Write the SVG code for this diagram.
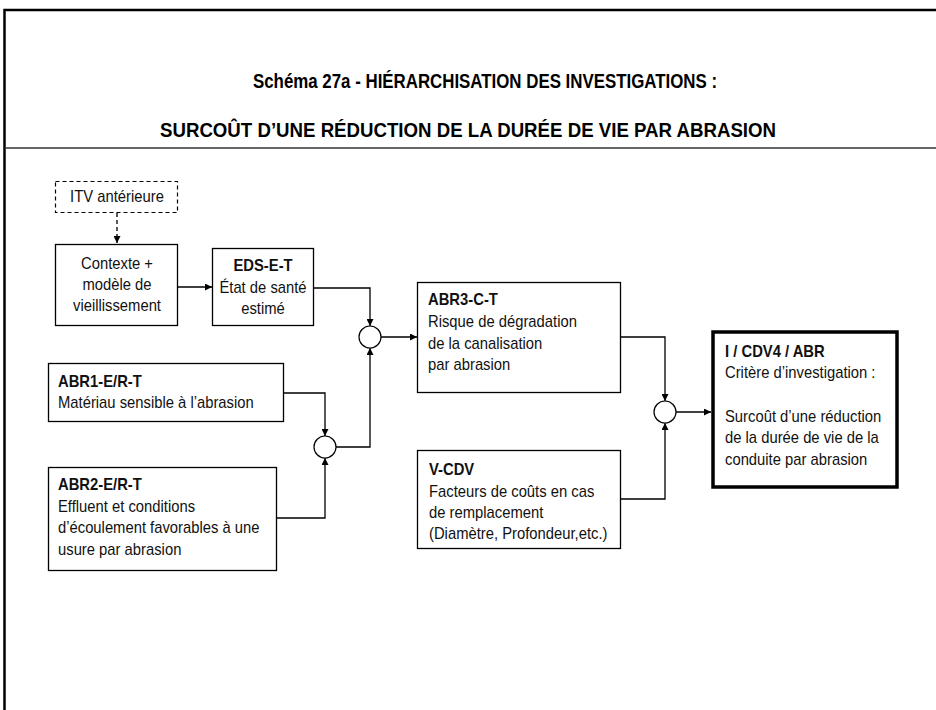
<svg xmlns="http://www.w3.org/2000/svg" width="936" height="710" viewBox="0 0 936 710">
<defs>
<marker id="arr" viewBox="0 0 10 10" refX="10" refY="5" markerWidth="7" markerHeight="7" markerUnits="userSpaceOnUse" orient="auto">
<path d="M0,0 L10,5 L0,10 z" fill="#000"/>
</marker>
<style>
.box{fill:#fff;stroke:#000;stroke-width:1.3}
.dash{fill:#fff;stroke:#000;stroke-width:1.2;stroke-dasharray:4 3}
.thick{fill:#fff;stroke:#000;stroke-width:3.5}
.circ{fill:#fff;stroke:#000;stroke-width:1.2}
.ln{fill:none;stroke:#000;stroke-width:1.3}
.t{font-family:"Liberation Sans",Arial,sans-serif;font-size:16px;fill:#111}
.b{font-weight:bold}
.c{text-anchor:middle}
.title{font-family:"Liberation Sans",Arial,sans-serif;font-size:20.5px;font-weight:bold;fill:#000}
</style>
</defs>
<rect x="0" y="0" width="936" height="710" fill="#fff"/>
<g id="frame">
<path d="M4.5,720 L4.5,10 L950,10" fill="none" stroke="#000" stroke-width="2.5"/>
<line x1="4.5" y1="148" x2="936" y2="148" stroke="#333" stroke-width="1.5"/>
<text class="title" x="253" y="87.5" textLength="464" lengthAdjust="spacingAndGlyphs">Schéma 27a - HIÉRARCHISATION DES INVESTIGATIONS :</text>
<text class="title" x="160" y="136.5" textLength="616" lengthAdjust="spacingAndGlyphs">SURCOÛT D’UNE RÉDUCTION DE LA DURÉE DE VIE PAR ABRASION</text>
</g>
<g id="connectors">
<path class="ln" d="M117,213 L117,243" stroke-dasharray="4 3" marker-end="url(#arr)"/>
<path class="ln" d="M177,287 L212,287" marker-end="url(#arr)"/>
<path class="ln" d="M313,288 L370,288 L370,326" marker-end="url(#arr)"/>
<path class="ln" d="M381,337 L417,337" marker-end="url(#arr)"/>
<path class="ln" d="M336,447 L370,447 L370,348" marker-end="url(#arr)"/>
<path class="ln" d="M284,393 L325,393 L325,436" marker-end="url(#arr)"/>
<path class="ln" d="M277,518 L325,518 L325,458" marker-end="url(#arr)"/>
<path class="ln" d="M621,337 L665,337 L665,401" marker-end="url(#arr)"/>
<path class="ln" d="M621,499 L665,499 L665,423" marker-end="url(#arr)"/>
<path class="ln" d="M676,412 L711,412" marker-end="url(#arr)"/>
</g>
<g id="itv">
<rect class="dash" x="55.5" y="181.5" width="122" height="31"/>
<text class="t c" transform="translate(117 202) scale(0.925 1)">ITV antérieure</text>
</g>
<g id="contexte">
<rect class="box" x="55.5" y="244.5" width="122" height="81"/>
<text class="t c" transform="translate(117 269) scale(0.925 1)">Contexte +</text>
<text class="t c" transform="translate(117 290) scale(0.925 1)">modèle de</text>
<text class="t c" transform="translate(117 311) scale(0.925 1)">vieillissement</text>
</g>
<g id="eds">
<rect class="box" x="212.5" y="248.5" width="101" height="77"/>
<text class="t c b" transform="translate(263 271) scale(0.925 1)">EDS-E-T</text>
<text class="t c" transform="translate(263 293) scale(0.925 1)">État de santé</text>
<text class="t c" transform="translate(263 314) scale(0.925 1)">estimé</text>
</g>
<g id="join1"><circle class="circ" cx="370" cy="337" r="11"/></g>
<g id="join2"><circle class="circ" cx="325" cy="447" r="11"/></g>
<g id="join3"><circle class="circ" cx="665" cy="412" r="11"/></g>
<g id="abr1">
<rect class="box" x="48.5" y="363.5" width="235" height="58"/>
<text class="t b" transform="translate(58 387) scale(0.925 1)">ABR1-E/R-T</text>
<text class="t" transform="translate(58 408) scale(0.925 1)">Matériau sensible à l’abrasion</text>
</g>
<g id="abr2">
<rect class="box" x="48.5" y="467.5" width="228" height="103"/>
<text class="t b" transform="translate(58 490) scale(0.925 1)">ABR2-E/R-T</text>
<text class="t" transform="translate(58 512) scale(0.925 1)">Effluent et conditions</text>
<text class="t" transform="translate(58 533) scale(0.925 1)">d’écoulement favorables à une</text>
<text class="t" transform="translate(58 555) scale(0.925 1)">usure par abrasion</text>
</g>
<g id="abr3">
<rect class="box" x="417.5" y="282.5" width="203" height="110"/>
<text class="t b" transform="translate(428 305) scale(0.925 1)">ABR3-C-T</text>
<text class="t" transform="translate(428 327) scale(0.925 1)">Risque de dégradation</text>
<text class="t" transform="translate(428 349) scale(0.925 1)">de la canalisation</text>
<text class="t" transform="translate(428 370) scale(0.925 1)">par abrasion</text>
</g>
<g id="vcdv">
<rect class="box" x="417.5" y="450.5" width="203" height="98"/>
<text class="t b" transform="translate(429 475) scale(0.925 1)">V-CDV</text>
<text class="t" transform="translate(429 497) scale(0.925 1)">Facteurs de coûts en cas</text>
<text class="t" transform="translate(429 518) scale(0.925 1)">de remplacement</text>
<text class="t" transform="translate(429 539) scale(0.925 1)">(Diamètre, Profondeur,etc.)</text>
</g>
<g id="cdv4">
<rect class="thick" x="713" y="332" width="184" height="155"/>
<text class="t b" transform="translate(725 357) scale(0.925 1)">I / CDV4 / ABR</text>
<text class="t" transform="translate(725 378) scale(0.925 1)">Critère d’investigation :</text>
<text class="t" transform="translate(725 422) scale(0.925 1)">Surcoût d’une réduction</text>
<text class="t" transform="translate(725 443) scale(0.925 1)">de la durée de vie de la</text>
<text class="t" transform="translate(725 465) scale(0.925 1)">conduite par abrasion</text>
</g>
</svg>
